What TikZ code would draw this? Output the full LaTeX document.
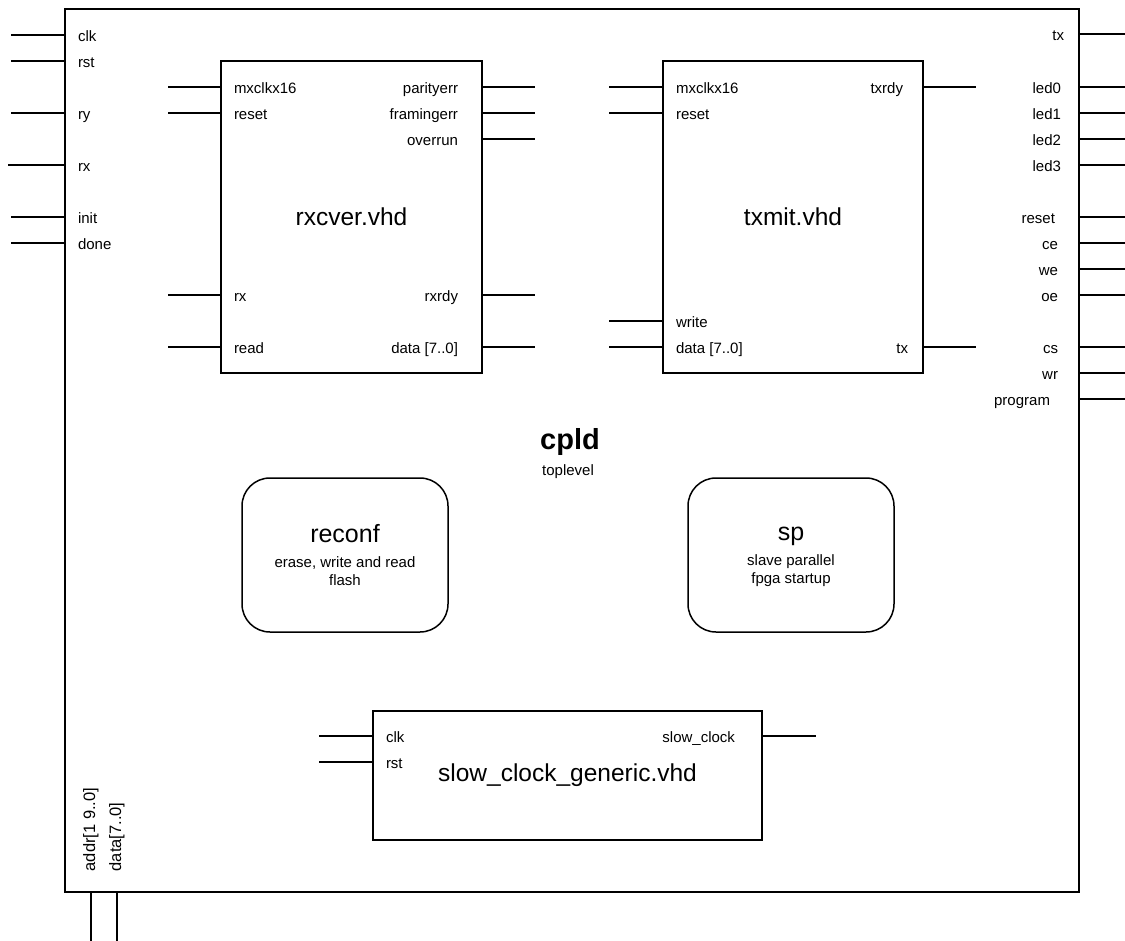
\documentclass[tikz,border=0pt]{standalone}
\usepackage{fontspec}
\setmainfont{Liberation Sans}
\usepackage{tikz}

\begin{document}
\begin{tikzpicture}[x=1pt, y=-1pt, line width=1.5pt,
    block/.style={draw, inner sep=0pt, font=\fontsize{24.5}{29}\selectfont},
    task/.style={draw, rounded corners=28pt, minimum width=206pt, minimum height=154pt, align=center, inner sep=0pt, font=\fontsize{15}{18}\selectfont},
    pinl/.style={anchor=west, inner xsep=13pt, inner ysep=0pt, text height=14pt, text depth=1pt, font=\fontsize{15}{18}\selectfont},
    pinr/.style={pinl, anchor=east, inner xsep=20pt},
    pinb/.style={rotate=90, anchor=west, inner xsep=20pt, inner ysep=0pt, text height=11pt, text depth=3pt, font=\fontsize{16.5}{20}\selectfont}]
  \useasboundingbox (0,0) rectangle (1125,941);

  % Top level
  \node[draw, minimum width=1014pt, minimum height=883pt, inner sep=0pt] (cpld) at (572,450.5) {};
  \node[font=\bfseries\fontsize{29}{34}\selectfont] (cpldname) at (570,442) {cpld};
  \node[font=\fontsize{15}{18}\selectfont] (toplevel) at (568,472) {toplevel};

  \foreach \y/\t/\l [count=\i] in {35/clk/53, 61/rst/53, 113/ry/53, 165/rx/56, 217/init/53, 243/done/53} {
    \node[pinl] (cpld-l\i) at (cpld.west |- 0,\y) {\t};
    \draw (cpld-l\i.west) -- ++(-\l,0);
  }
  \foreach \y/\t/\s [count=\i] in {34/tx/15, 87/led0/18, 113/led1/18, 139/led2/18, 165/led3/18, 217/reset/24,
      243/ce/21, 269/we/21, 295/oe/21, 347/cs/21, 373/wr/21, 399/program/29} {
    \node[pinr, inner xsep=\s pt] (cpld-r\i) at (cpld.east |- 0,\y) {\t};
    \draw (cpld-r\i.east) -- ++(46,0);
  }

  \node[pinb] (addr) at (91,892) {addr[1 9..0]};
  \draw (addr.west) -- ++(0,49);
  \node[pinb] (data) at (117,892) {data[7..0]};
  \draw (data.west) -- ++(0,49);

  % Receiver
  \node[block, minimum width=261pt, minimum height=312pt] (rxcver) at (351.5,217) {rxcver.vhd};
  \foreach \y/\t [count=\i] in {87/mxclkx16, 113/reset, 295/rx, 347/read} {
    \node[pinl] (rxcver-l\i) at (rxcver.west |- 0,\y) {\t};
    \draw (rxcver-l\i.west) -- ++(-52,0);
  }
  \foreach \y/\t [count=\i] in {87/parityerr, 113/framingerr, 139/overrun, 295/rxrdy, 347/data [7..0]} {
    \node[pinr, inner xsep=24pt] (rxcver-r\i) at (rxcver.east |- 0,\y) {\t};
    \draw (rxcver-r\i.east) -- ++(52,0);
  }

  % Transmitter
  \node[block, minimum width=260pt, minimum height=312pt] (txmit) at (793,217) {txmit.vhd};
  \foreach \y/\t [count=\i] in {87/mxclkx16, 113/reset, 321/write, 347/data [7..0]} {
    \node[pinl] (txmit-l\i) at (txmit.west |- 0,\y) {\t};
    \draw (txmit-l\i.west) -- ++(-53,0);
  }
  \foreach \y/\t/\s [count=\i] in {87/txrdy/20, 347/tx/15} {
    \node[pinr, inner xsep=\s pt] (txmit-r\i) at (txmit.east |- 0,\y) {\t};
    \draw (txmit-r\i.east) -- ++(52,0);
  }

  % Processes
  \node[task] (reconf) at (345,555) {
    {\fontsize{25}{30}\selectfont reconf}\\[7pt]
    erase, write and read\\
    flash
  };
  \node[task] (sp) at (791,555) {
    {\fontsize{25}{30}\selectfont\vphantom{f}sp}\\[7pt]
    slave parallel\\
    fpga startup
  };

  % Slow clock
  \node[block, minimum width=389pt, minimum height=129pt] (slowclk) at (567.5,775.5) {slow\_clock\_generic.vhd};
  \foreach \y/\t [count=\i] in {736/clk, 762/rst} {
    \node[pinl] (slowclk-l\i) at (slowclk.west |- 0,\y) {\t};
    \draw (slowclk-l\i.west) -- ++(-53,0);
  }
  \node[pinr, inner xsep=27pt] (slowclk-r1) at (slowclk.east |- 0,736) {slow\_clock};
  \draw (slowclk-r1.east) -- ++(53,0);
\end{tikzpicture}
\end{document}
